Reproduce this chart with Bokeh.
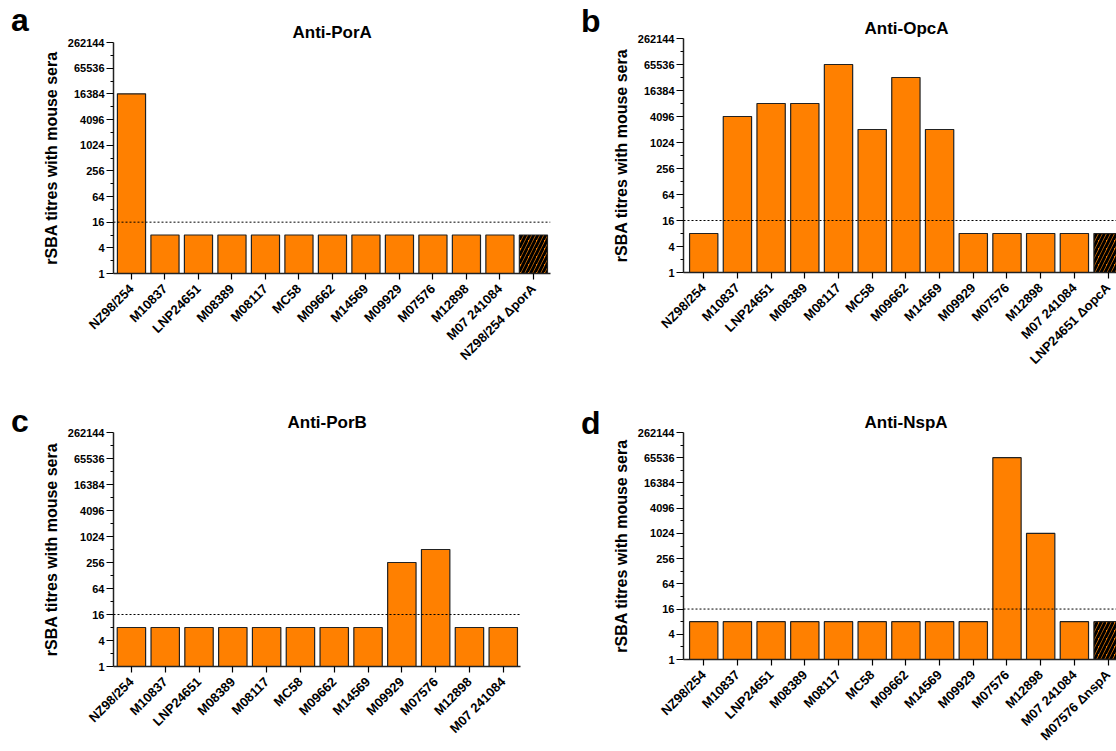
from bokeh.plotting import figure
from bokeh.models import (Range1d, FixedTicker, PrintfTickFormatter, Span, Div,
                          ColumnDataSource)
from bokeh.layouts import column, row
from bokeh.embed import file_html
from bokeh.resources import INLINE
import math

FONT = "Liberation Sans"
ORANGE = "#FF8000"

strains_a = ["NZ98/254", "M10837", "LNP24651", "M08389", "M08117", "MC58", "M09662",
             "M14569", "M09929", "M07576", "M12898", "M07 241084", "NZ98/254 \u0394porA"]
titres_a = [16384, 8, 8, 8, 8, 8, 8, 8, 8, 8, 8, 8, 8]
hatch_a = [False, False, False, False, False, False, False, False, False, False, False, False, True]

strains_b = ["NZ98/254", "M10837", "LNP24651", "M08389", "M08117", "MC58", "M09662",
             "M14569", "M09929", "M07576", "M12898", "M07 241084", "LNP24651 \u0394opcA"]
titres_b = [8, 4096, 8192, 8192, 65536, 2048, 32768, 2048, 8, 8, 8, 8, 8]
hatch_b = [False, False, False, False, False, False, False, False, False, False, False, False, True]

strains_c = ["NZ98/254", "M10837", "LNP24651", "M08389", "M08117", "MC58", "M09662",
             "M14569", "M09929", "M07576", "M12898", "M07 241084"]
titres_c = [8, 8, 8, 8, 8, 8, 8, 8, 256, 512, 8, 8]
hatch_c = [False, False, False, False, False, False, False, False, False, False, False, False]

strains_d = ["NZ98/254", "M10837", "LNP24651", "M08389", "M08117", "MC58", "M09662",
             "M14569", "M09929", "M07576", "M12898", "M07 241084", "M07576 \u0394nspA"]
titres_d = [8, 8, 8, 8, 8, 8, 8, 8, 8, 65536, 1024, 8, 8]
hatch_d = [False, False, False, False, False, False, False, False, False, False, False, False, True]

y_major = [1, 4, 16, 64, 256, 1024, 4096, 16384, 65536, 262144]
y_minor = [2, 8, 32, 128, 512, 2048, 8192, 32768, 131072]
threshold = 16


def letter_div(letter, width, height, pad_left, pad_top):
    html = ('<div style="font-family: \'Liberation Sans\'; font-size: 32px; '
            'font-weight: bold; color: black; line-height: normal; '
            f'padding-left: {pad_left}px; padding-top: {pad_top}px; margin: 0;">'
            f'{letter}</div>')
    return Div(text=html, width=width, height=height, margin=0)


def panel(strains, titres, hatch, title, width, height, borders, xr, title_offset):
    left, right, top, bottom = borders
    p = figure(width=width, height=height, output_backend="svg", toolbar_location=None,
               y_axis_type="log", x_range=Range1d(*xr), y_range=Range1d(1, 262144),
               min_border_left=left, min_border_right=right, min_border_top=top,
               min_border_bottom=bottom, margin=0)
    p.outline_line_color = None
    p.xgrid.visible = False
    p.ygrid.visible = False
    p.background_fill_color = "white"
    p.border_fill_color = "white"

    p.title.text = title
    p.title.text_font = FONT
    p.title.text_font_size = "17px"
    p.title.text_font_style = "bold"
    p.title.text_color = "black"
    p.title.align = "left"
    p.title.offset = title_offset
    p.title.standoff = 2

    xs = list(range(len(strains)))
    plain = ColumnDataSource(dict(x=[x for x, h in zip(xs, hatch) if not h],
                                  top=[t for t, h in zip(titres, hatch) if not h]))
    hat = ColumnDataSource(dict(x=[x for x, h in zip(xs, hatch) if h],
                                top=[t for t, h in zip(titres, hatch) if h]))
    p.vbar(x="x", top="top", bottom=1, width=0.84, source=plain, fill_color=ORANGE,
           line_color="#222222", line_width=1.2)
    p.vbar(x="x", top="top", bottom=1, width=0.84, source=hat, fill_color=ORANGE,
           line_color="#222222", line_width=1.2, hatch_pattern="/", hatch_color="black",
           hatch_scale=8, hatch_weight=3)

    p.add_layout(Span(location=threshold, dimension="width", line_color="black",
                      line_width=1, line_dash="2 2"))

    ya = p.yaxis[0]
    ya.ticker = FixedTicker(ticks=y_major, minor_ticks=y_minor)
    ya.formatter = PrintfTickFormatter(format="%d")
    ya.axis_label = "rSBA titres with mouse sera"
    ya.axis_label_text_font = FONT
    ya.axis_label_text_font_size = "16px"
    ya.axis_label_text_font_style = "bold"
    ya.axis_label_text_color = "black"
    ya.axis_label_standoff = 5
    ya.major_label_text_font = FONT
    ya.major_label_text_font_size = "11px"
    ya.major_label_text_font_style = "bold"
    ya.major_label_text_color = "black"
    ya.major_label_standoff = 2
    ya.major_tick_in = 0
    ya.major_tick_out = 7
    ya.minor_tick_in = 0
    ya.minor_tick_out = 3
    ya.axis_line_width = 1.5
    ya.major_tick_line_width = 1.2
    ya.minor_tick_line_width = 1.2
    ya.axis_line_color = "#222222"

    xa = p.xaxis[0]
    xa.ticker = FixedTicker(ticks=xs)
    xa.major_label_overrides = {i: s for i, s in zip(xs, strains)}
    xa.major_label_orientation = math.pi / 4
    xa.major_label_text_font = FONT
    xa.major_label_text_font_size = "13px"
    xa.major_label_text_font_style = "bold"
    xa.major_label_text_color = "black"
    xa.major_label_standoff = 7
    xa.major_tick_in = 0
    xa.major_tick_out = 6
    xa.minor_tick_line_color = None
    xa.axis_line_width = 1.5
    xa.major_tick_line_width = 1.2
    xa.axis_line_color = "#222222"
    return p


la = letter_div("a", 32, 390, 11, 2)
pa = panel(strains_a, titres_a, hatch_a, "Anti-PorA", 536, 390, (81, 18, 42, 117),
           (-0.537, 12.51), 179)
lb = letter_div("b", 34, 390, 13, 3)
pb = panel(strains_b, titres_b, hatch_b, "Anti-OpcA", 514, 390, (81, 0, 38, 118),
           (-0.60, 12.25), 181)

lc = letter_div("c", 32, 361, 11, 13)
pc = panel(strains_c, titres_c, hatch_c, "Anti-PorB", 536, 361, (81, 48, 42, 85),
           (-0.53, 11.51), 174)
ld = letter_div("d", 34, 361, 13, 15)
pd = panel(strains_d, titres_d, hatch_d, "Anti-NspA", 514, 361, (81, 0, 42, 86),
           (-0.60, 12.25), 181)

layout = row(column(row(la, pa), row(lc, pc)), column(row(lb, pb), row(ld, pd)))
open("out.html", "w").write(file_html(layout, INLINE))
